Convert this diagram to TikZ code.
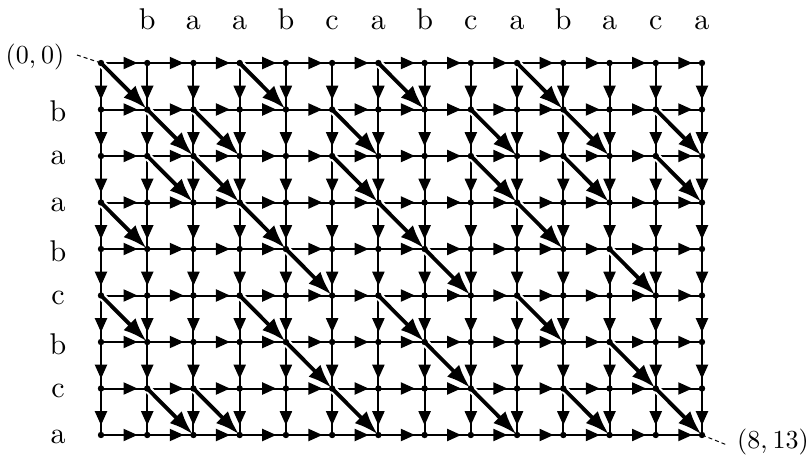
\documentclass[tikz,border=0pt]{standalone}
\usepackage{fontspec}
\setmainfont{lmroman10-regular.otf}
\usetikzlibrary{arrows.meta,decorations.markings}
\pgfdeclarelayer{bg}
\pgfsetlayers{bg,main}
\tikzset{
  dot/.style={circle, fill=black, inner sep=0pt, minimum size=6.4pt},
  gridedge/.style={line width=2pt, postaction={decorate},
    decoration={markings, mark=at position 0.79 with {\arrow{Triangle[length=14pt,width=12pt]}}}},
  diaghalo/.style={white, line width=8pt, -{Latex[length=30pt,width=24pt]}},
  diagedge/.style={line width=3.8pt, -{Latex[length=24pt,width=17pt]}},
  letter/.style={font=\fontsize{30}{36}\selectfont, inner sep=0pt},
  coordlabel/.style={font=\fontsize{26}{30}\selectfont, inner sep=0pt},
  leader/.style={line width=1pt, dash pattern=on 4pt off 3pt},
}
\begin{document}
\begin{tikzpicture}[x=1pt,y=-1pt]
\useasboundingbox (0,0) rectangle (811,455);
% grid nodes
\foreach \i in {0,...,8}
  \foreach \j in {0,...,13}
    \node[dot] (n-\i-\j) at ({101+46.23*\j},{63+46.5*\i}) {};
% top letters
\foreach \c [count=\j] in {b,a,a,b,c,a,b,c,a,b,a,c,a}
  \node[letter, anchor=base] (t-\j) at ({101+46.23*\j},29.5) {\c};
% left letters
\foreach \c [count=\i] in {b,a,a,b,c,b,c,a}
  \node[letter] (l-\i) at (58,{65+46.5*\i}) {\c};
% coordinate labels
\node[coordlabel] (c00) at (35,57) {(0,\kern0.2em 0)};
\node[coordlabel] (c813) at (773,442) {(8,\kern0.2em 13)};
\coordinate (e00) at (77,55);
\coordinate (e813) at (727,445);
\begin{pgfonlayer}{bg}
  \draw[leader] (e00) -- (n-0-0.center);
  \draw[leader] (n-8-13.center) -- (e813);
  % horizontal edges
  \foreach \i in {0,...,8}
    \foreach \j in {1,...,13} {
      \pgfmathtruncatemacro{\pj}{\j-1}
      \draw[gridedge] (n-\i-\pj.center) -- (n-\i-\j.center);
    }
  % vertical edges
  \foreach \i in {1,...,8} {
    \pgfmathtruncatemacro{\pi}{\i-1}
    \foreach \j in {0,...,13}
      \draw[gridedge] (n-\pi-\j.center) -- (n-\i-\j.center);
  }
  % diagonal (match) edges
  \foreach \i/\js in {1/{1,4,7,10}, 2/{2,3,6,9,11,13}, 3/{2,3,6,9,11,13},
                      4/{1,4,7,10}, 5/{5,8,12}, 6/{1,4,7,10}, 7/{5,8,12},
                      8/{2,3,6,9,11,13}} {
    \pgfmathtruncatemacro{\pi}{\i-1}
    \foreach \j in \js {
      \pgfmathtruncatemacro{\pj}{\j-1}
      \draw[diaghalo, shorten >=-1pt] (n-\pi-\pj.center) -- (n-\i-\j.center);
    }
  }
  \foreach \i/\js in {1/{1,4,7,10}, 2/{2,3,6,9,11,13}, 3/{2,3,6,9,11,13},
                      4/{1,4,7,10}, 5/{5,8,12}, 6/{1,4,7,10}, 7/{5,8,12},
                      8/{2,3,6,9,11,13}} {
    \pgfmathtruncatemacro{\pi}{\i-1}
    \foreach \j in \js {
      \pgfmathtruncatemacro{\pj}{\j-1}
      \draw[diagedge, shorten >=1pt] (n-\pi-\pj.center) -- (n-\i-\j.center);
    }
  }
\end{pgfonlayer}
\end{tikzpicture}
\end{document}
